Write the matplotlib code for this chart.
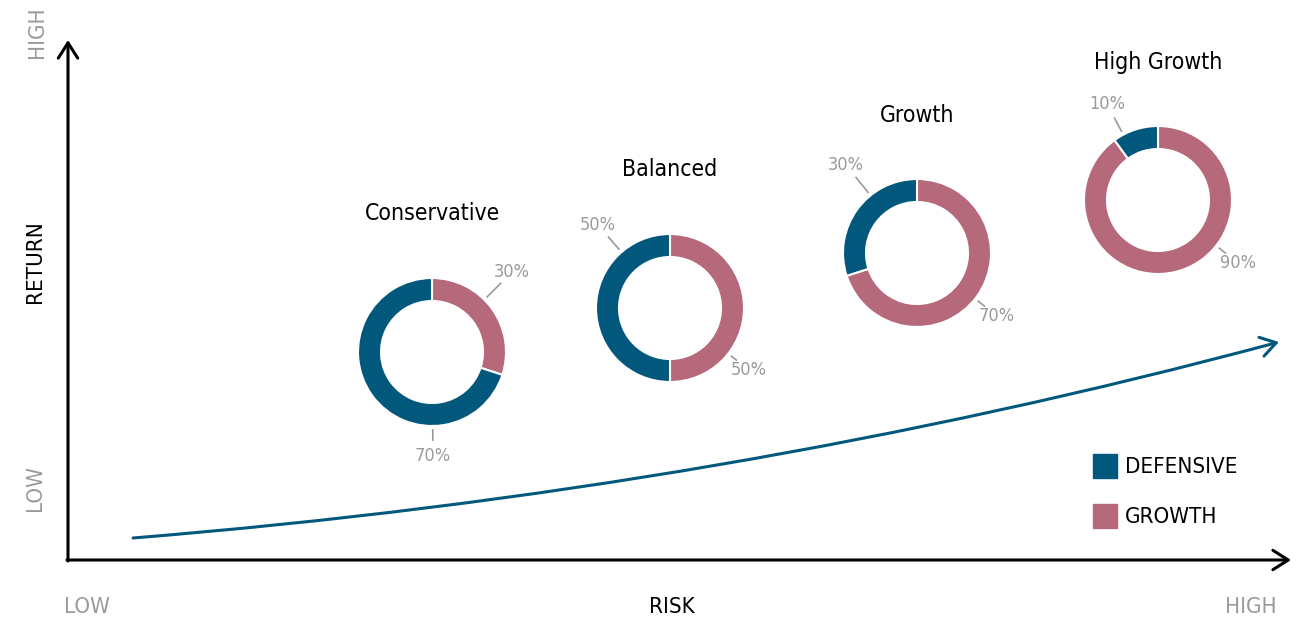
import matplotlib
matplotlib.use("Agg")
import matplotlib.pyplot as plt
from matplotlib.patches import FancyArrowPatch, Rectangle
from matplotlib.path import Path
import numpy as np

plt.rcParams['font.family'] = ['DejaVu Sans']
plt.rcParams['font.stretch'] = 'condensed'

# data
profiles = ["Conservative", "Balanced", "Growth", "High Growth"]
defensive = [70, 50, 30, 10]
growth = [30, 50, 70, 90]

# colours
c_def = "#02587c"
c_gro = "#b5697b"
c_grey = "#9a9a9a"

W, H = 1309, 621
fig = plt.figure(figsize=(W / 100, H / 100), dpi=100)
ax = fig.add_axes([0, 0, 1, 1])

def py(y):
    # pixel row -> data y
    return H - y

# donut centres (pixels) and label offsets
centres = [(432, 352), (670, 308), (917, 253), (1158, 200)]
r_out, ring = 74, 23
# (dx, dy) of growth label and defensive label relative to centre
gro_off = [(80, -80), (79, 62), (80, 63), (80, 63)]
def_off = [(1, 104), (-72, -83), (-71, -88), (-51, -96)]

for i, name in enumerate(profiles):
    cx, cy = centres[i]
    ax.pie([growth[i], defensive[i]], colors=[c_gro, c_def], startangle=90,
           counterclock=False, radius=r_out, center=(cx, py(cy)),
           wedgeprops=dict(width=ring, edgecolor="white", linewidth=1.5),
           frame=True)
    ax.text(cx, py(cy - 138), name, ha="center", va="center", fontsize=16.5,
            color="black")
    for off, val in [(gro_off[i], growth[i]), (def_off[i], defensive[i])]:
        dx, dy = off
        d = np.hypot(dx, dy)
        ux, uy = dx / d, dy / d
        ax.plot([cx + ux * 78, cx + ux * (d - 16)], [py(cy + uy * 78), py(cy + uy * (d - 16))],
                color=c_grey, lw=1.2)
        ax.text(cx + dx, py(cy + dy), f"{val}%", ha="center", va="center",
                fontsize=13, color=c_grey)

ax.set_xlim(0, W)
ax.set_ylim(0, H)
ax.set_aspect("equal")
ax.axis("off")

# axes arrows
arrow = "->,head_length=0.55,head_width=0.35"
ax.add_patch(FancyArrowPatch((68, py(561)), (68, py(40)), arrowstyle=arrow,
                             mutation_scale=20, lw=2.2, color="black",
                             shrinkA=0, shrinkB=0))
ax.add_patch(FancyArrowPatch((67, py(560)), (1291, py(560)), arrowstyle=arrow,
                             mutation_scale=20, lw=2.2, color="black",
                             shrinkA=0, shrinkB=0))

# risk/return curve
curve = Path([(133, py(538)), (728, py(490)), (1279, py(342))],
             [Path.MOVETO, Path.CURVE3, Path.CURVE3])
ax.add_patch(FancyArrowPatch(path=curve, arrowstyle=arrow, mutation_scale=20,
                             lw=2.2, color=c_def, shrinkA=0, shrinkB=0))

# axis labels
ax.text(37, py(32), "HIGH", rotation=90, ha="center", va="center", fontsize=16, color=c_grey)
ax.text(35, py(262), "RETURN", rotation=90, ha="center", va="center", fontsize=16, color="black")
ax.text(35, py(488), "LOW", rotation=90, ha="center", va="center", fontsize=16, color=c_grey)
ax.text(87, py(607), "LOW", ha="center", va="center", fontsize=16, color=c_grey)
ax.text(672, py(607), "RISK", ha="center", va="center", fontsize=16, color="black")
ax.text(1251, py(607), "HIGH", ha="center", va="center", fontsize=16, color=c_grey)

# legend
for lab, col, yy in [("DEFENSIVE", c_def, 466), ("GROWTH", c_gro, 516)]:
    ax.add_patch(Rectangle((1093, py(yy + 12)), 24, 24, color=col))
    ax.text(1125, py(yy + 1), lab, ha="left", va="center", fontsize=16, color="black")

fig.savefig("out.png", dpi=100)
